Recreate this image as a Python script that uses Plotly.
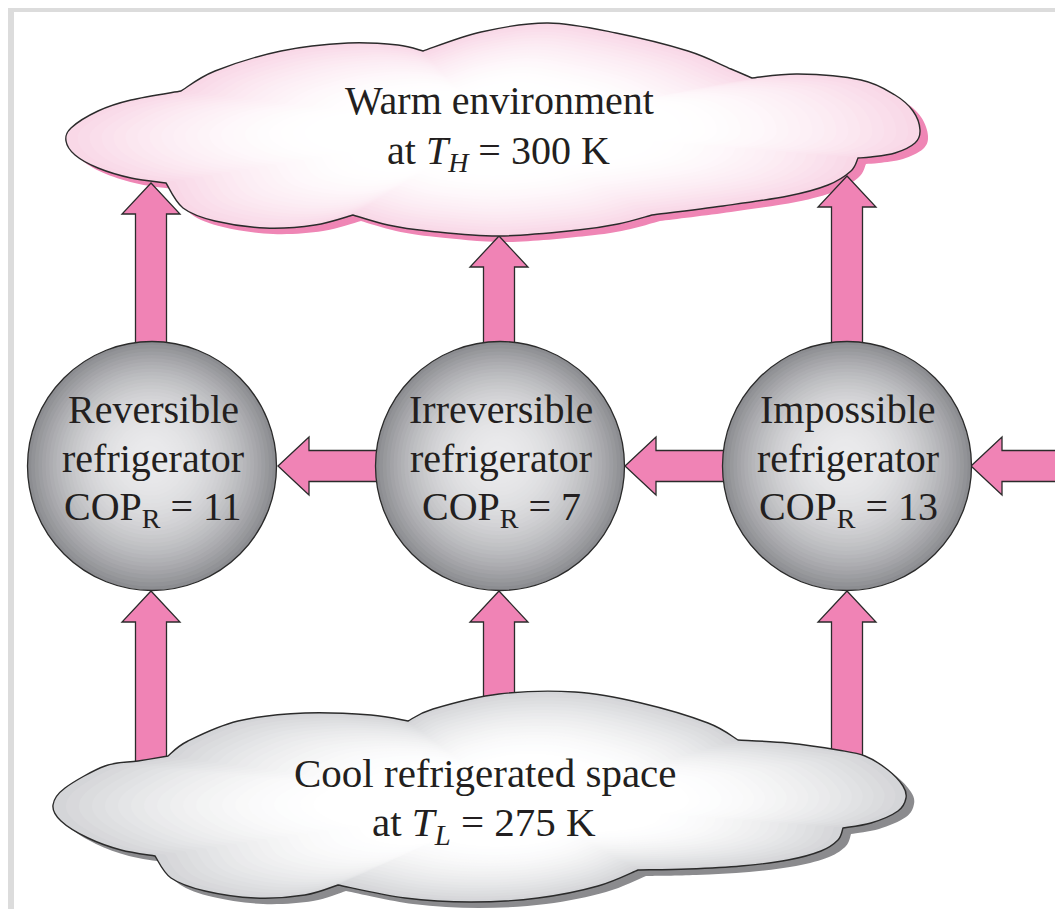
import numpy as np
import plotly.graph_objects as go

# ---- diagram content ----
fridge_names = ["Reversible", "Irreversible", "Impossible"]
cop_values = [11, 7, 13]
reservoir_names = ["Warm environment", "Cool refrigerated space"]
reservoir_subs = ["H", "L"]
reservoir_temps = [300, 275]

W, H = 1063, 909
FONT = "Liberation Serif, Times New Roman, serif"
TEXT_COLOR = "#231f20"
PINK = "#f083b5"
EDGE = "#2b2b2b"

# circle centres (px) and radius
CIRCLE_X = [144, 492, 839]
CIRCLE_Y = 458
RADIUS = 124.5

# cloud outlines: one list of points per lobe, lobes meet at the notches
TOP_LOBES = [
    [(173, 83), (207, 63), (273, 43), (340, 35), (390, 37), (415, 43)],
    [(415, 43), (473, 24), (540, 15), (608, 25), (680, 43), (723, 61), (744, 70)],
    [(744, 70), (790, 66), (853, 72), (887, 87), (905, 103), (912, 122),
     (907, 135), (887, 145), (863, 149), (850, 150)],
    [(850, 150), (843, 163), (820, 177), (780, 188), (715, 198), (644, 207)],
    [(644, 207), (610, 216), (570, 222), (491, 228), (420, 223), (380, 217), (345, 207)],
    [(345, 207), (307, 217), (257, 220), (207, 213), (175, 200), (158, 175)],
    [(158, 175), (123, 170), (90, 160), (67, 147), (58, 133), (63, 120),
     (90, 103), (123, 92), (173, 83)],
]
BOTTOM_LOBES = [
    [(160, 748), (180, 733), (230, 713), (297, 705), (363, 707), (400, 713)],
    [(400, 713), (425, 701), (491, 686), (567, 684), (633, 695), (700, 715), (730, 732)],
    [(730, 732), (780, 735), (830, 742), (857, 748), (880, 762), (895, 778),
     (898, 790), (890, 803), (863, 815), (835, 820)],
    [(835, 820), (830, 832), (813, 843), (780, 852), (733, 858), (680, 861), (630, 862)],
    [(630, 862), (590, 878), (530, 890), (463, 894), (397, 890), (330, 877)],
    [(330, 877), (297, 887), (247, 890), (197, 883), (163, 870), (147, 848)],
    [(147, 848), (113, 842), (80, 830), (53, 813), (45, 797), (57, 780),
     (97, 758), (130, 753), (160, 748)],
]


def cloud_path(lobes, center, scale=1.0, shift=(0, 0)):
    """Closed path of Catmull-Rom curves, one per lobe, scaled about center."""
    cx, cy = center

    def tf(p):
        return np.array([cx + (p[0] - cx) * scale + shift[0],
                         cy + (p[1] - cy) * scale + shift[1]])

    first = tf(lobes[0][0])
    parts = [f"M{first[0]:.1f},{first[1]:.1f}"]
    for lobe in lobes:
        P = [tf(p) for p in lobe]
        n = len(P)
        for i in range(n - 1):
            p0 = P[i - 1] if i > 0 else P[i]
            p1, p2 = P[i], P[i + 1]
            p3 = P[i + 2] if i + 2 < n else P[i + 1]
            c1 = p1 + (p2 - p0) / 6
            c2 = p2 - (p3 - p1) / 6
            parts.append(f"C{c1[0]:.1f},{c1[1]:.1f} {c2[0]:.1f},{c2[1]:.1f} {p2[0]:.1f},{p2[1]:.1f}")
    parts.append("Z")
    return " ".join(parts)


def mix(c_out, c_in, t):
    r, g, b = [int(round(c_in[k] + (c_out[k] - c_in[k]) * t)) for k in range(3)]
    return f"rgb({r},{g},{b})"


def poly(points):
    return "M" + " L".join(f"{x:.1f},{y:.1f}" for x, y in points) + " Z"


def up_arrow(xc, tip, tail, hw=15.5, head_w=29, head_l=31):
    b = tip + head_l
    return poly([(xc, tip), (xc + head_w, b), (xc + hw, b), (xc + hw, tail),
                 (xc - hw, tail), (xc - hw, b), (xc - head_w, b)])


def left_arrow(yc, tip, tail, hw=15.5, head_w=29, head_l=31):
    b = tip + head_l
    return poly([(tip, yc), (b, yc - head_w), (b, yc - hw), (tail, yc - hw),
                 (tail, yc + hw), (b, yc + hw), (b, yc + head_w)])


shapes = []

# grey frame strips
shapes.append(dict(type="rect", x0=0, x1=W, y0=0, y1=4, fillcolor="#dcdcdc", line_width=0))
shapes.append(dict(type="rect", x0=0, x1=6, y0=0, y1=H, fillcolor="#dcdcdc", line_width=0))

# cloud drop shadows
clouds = [
    dict(lobes=TOP_LOBES, center=(485, 120), edge=(249, 216, 231), shadow="#ef86b5"),
    dict(lobes=BOTTOM_LOBES, center=(510, 795), edge=(212, 213, 216), shadow="#8b8b8e"),
]
for c in clouds:
    shapes.append(dict(type="path", path=cloud_path(c["lobes"], c["center"], shift=(8, 6)),
                       fillcolor=c["shadow"], line_width=0))

# arrows (drawn beneath the clouds and circles)
arrow_paths = [
    up_arrow(143, 175, 345), up_arrow(491, 228, 345), up_arrow(839, 168, 345),
    up_arrow(143, 583, 765), up_arrow(491, 583, 705), up_arrow(839, 583, 760),
    left_arrow(CIRCLE_Y, 270, 378), left_arrow(CIRCLE_Y, 617, 725),
]
for p in arrow_paths:
    shapes.append(dict(type="path", path=p, fillcolor=PINK, line=dict(color=EDGE, width=1.3)))
# arrow entering from the right edge (open tail)
shapes.append(dict(type="path", path=left_arrow(CIRCLE_Y, 963, 1080),
                   fillcolor=PINK, line=dict(color=EDGE, width=1.3)))

# clouds with a radial fade toward white
N = 26
for c in clouds:
    for k in range(N):
        s = 1.0 - k * 0.7 / (N - 1)
        t = max(0.0, (s - 0.4) / 0.6) ** 1.8
        shapes.append(dict(type="path", path=cloud_path(c["lobes"], c["center"], scale=s),
                           fillcolor=mix(c["edge"], (255, 255, 255), t), line_width=0))
    shapes.append(dict(type="path", path=cloud_path(c["lobes"], c["center"]),
                       fillcolor="rgba(0,0,0,0)", line=dict(color=EDGE, width=1.4)))

# shaded spheres
M = 34
for cx in CIRCLE_X:
    hx, hy = cx - 2, CIRCLE_Y - 10
    for k in range(M):
        f = 1.0 - k / M
        r = RADIUS * f
        x = hx + (cx - hx) * f
        y = hy + (CIRCLE_Y - hy) * f
        shapes.append(dict(type="circle", x0=x - r, x1=x + r, y0=y - r, y1=y + r,
                           fillcolor=mix((140, 141, 145), (234, 234, 236), f ** 2.2),
                           line_width=0))
    shapes.append(dict(type="circle", x0=cx - RADIUS, x1=cx + RADIUS,
                       y0=CIRCLE_Y - RADIUS, y1=CIRCLE_Y + RADIUS,
                       fillcolor="rgba(0,0,0,0)", line=dict(color=EDGE, width=1.3)))

annotations = []


def label(x, y, text, size=40):
    annotations.append(dict(x=x, y=y, xref="x", yref="y", text=text, showarrow=False,
                            xanchor="center", yanchor="middle",
                            font=dict(family=FONT, size=size, color=TEXT_COLOR)))


for cx, name, cop in zip(CIRCLE_X, fridge_names, cop_values):
    label(cx + 1, 401, name)
    label(cx + 1, 450, "refrigerator")
    label(cx + 1, 501, f"COP<sub>R</sub> = {cop}")

label(491, 92, reservoir_names[0])
label(490, 145, f"at <i>T<sub>{reservoir_subs[0]}</sub></i> = {reservoir_temps[0]} K")
label(477, 765, reservoir_names[1], size=41)
label(476, 817, f"at <i>T<sub>{reservoir_subs[1]}</sub></i> = {reservoir_temps[1]} K", size=41)

fig = go.Figure(go.Scatter(x=[0, W], y=[0, H], mode="markers",
                           marker=dict(opacity=0), hoverinfo="skip", showlegend=False))
fig.update_layout(
    width=W, height=H,
    margin=dict(l=0, r=0, t=0, b=0),
    paper_bgcolor="white", plot_bgcolor="white",
    xaxis=dict(range=[0, W], visible=False, fixedrange=True),
    yaxis=dict(range=[H, 0], visible=False, fixedrange=True),
    shapes=shapes, annotations=annotations,
    showlegend=False,
)
fig.write_html("out.html")
